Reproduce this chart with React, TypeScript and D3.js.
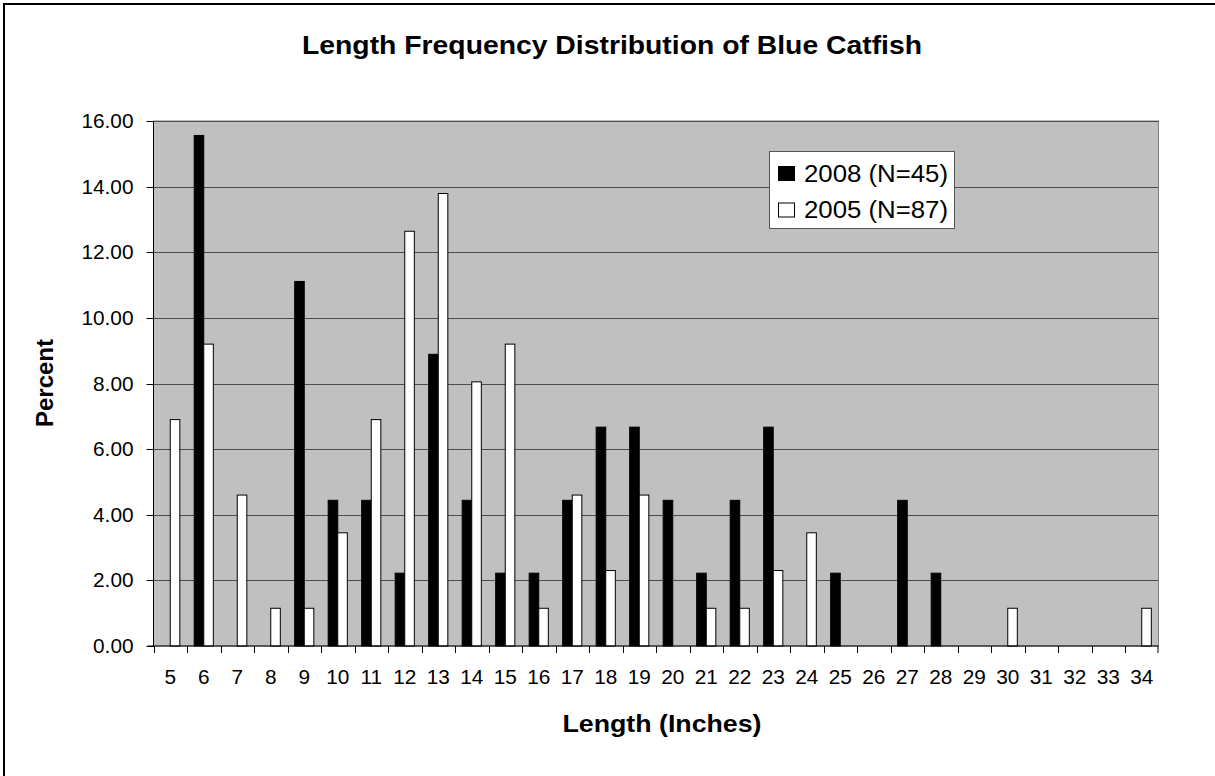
import React from "react";
import * as d3 from "d3";

// Length classes (inches) and percent of catch per class
const lengths: number[] = [
  5, 6, 7, 8, 9, 10, 11, 12, 13, 14, 15, 16, 17, 18, 19, 20, 21, 22, 23, 24, 25, 26, 27, 28, 29, 30, 31, 32, 33, 34,
];
const pct2008: number[] = [
  0, 15.56, 0, 0, 11.11, 4.44, 4.44, 2.22, 8.89, 4.44, 2.22, 2.22, 4.44, 6.67, 6.67, 4.44, 2.22, 4.44, 6.67, 0, 2.22, 0,
  4.44, 2.22, 0, 0, 0, 0, 0, 0,
];
const pct2005: number[] = [
  6.9, 9.2, 4.6, 1.15, 1.15, 3.45, 6.9, 12.64, 13.79, 8.05, 9.2, 1.15, 4.6, 2.3, 4.6, 0, 1.15, 1.15, 2.3, 3.45, 0, 0, 0,
  0, 0, 1.15, 0, 0, 0, 1.15,
];
const seriesNames: string[] = ["2008 (N=45)", "2005 (N=87)"];
const yTicks: number[] = [0, 2, 4, 6, 8, 10, 12, 14, 16];

const W = 1215;
const H = 776;
const plot = { left: 153.5, right: 1158.5, top: 121, bottom: 646 };
const font = "Arial, 'Liberation Sans', Helvetica, sans-serif";

export default function App() {
  const x = d3
    .scaleBand<number>()
    .domain(lengths)
    .range([plot.left, plot.right])
    .paddingInner(0)
    .paddingOuter(0);
  const band = x.bandwidth();
  const barW = band / 3.5; // two bars plus 150% gap
  const y = d3.scaleLinear().domain([0, 16]).range([plot.bottom, plot.top]);

  const series = [
    { name: seriesNames[0], values: pct2008, fill: "#000000" },
    { name: seriesNames[1], values: pct2005, fill: "#ffffff" },
  ];

  return (
    <svg
      width={W}
      height={H}
      style={{ position: "absolute", left: 0, top: 0, fontFamily: font }}
    >
      <rect x={0} y={0} width={W} height={H} fill="#ffffff" />
      <rect x={4} y={4} width={W + 10} height={H + 10} fill="none" stroke="#000" strokeWidth={2} />

      <text
        x={612}
        y={54}
        textAnchor="middle"
        fontSize={25}
        fontWeight="bold"
        textLength={620}
        lengthAdjust="spacingAndGlyphs"
      >
        Length Frequency Distribution of Blue Catfish
      </text>

      {/* plot area */}
      <rect
        x={plot.left}
        y={plot.top}
        width={plot.right - plot.left}
        height={plot.bottom - plot.top}
        fill="#c0c0c0"
        stroke="#808080"
        strokeWidth={1}
      />
      {yTicks.slice(1).map((t) => (
        <line
          key={"g" + t}
          x1={plot.left}
          x2={plot.right}
          y1={Math.round(y(t)) + 0.5}
          y2={Math.round(y(t)) + 0.5}
          stroke="#4d4d4d"
          strokeWidth={1}
        />
      ))}

      {/* bars */}
      {series.map((s, si) =>
        s.values.map((v, i) =>
          v > 0 ? (
            <rect
              key={s.name + i}
              x={(x(lengths[i]) as number) + band * (0.75 / 3.5) + si * barW}
              y={y(v)}
              width={barW}
              height={plot.bottom - y(v)}
              fill={s.fill}
              stroke="#000"
              strokeWidth={1}
            />
          ) : null
        )
      )}

      {/* axes */}
      <line x1={plot.left} x2={plot.left} y1={plot.top} y2={plot.bottom + 0.5} stroke="#000" strokeWidth={1} />
      <line x1={plot.left - 6} x2={plot.right} y1={plot.bottom} y2={plot.bottom} stroke="#000" strokeWidth={1} />
      {yTicks.map((t) => (
        <g key={"y" + t}>
          <line
            x1={plot.left - 7}
            x2={plot.left}
            y1={Math.round(y(t)) + 0.5}
            y2={Math.round(y(t)) + 0.5}
            stroke="#000"
          />
          <text
            transform={`translate(133.5, ${y(t) + 7}) scale(1.04, 1)`}
            textAnchor="end"
            fontSize={20}
          >
            {t.toFixed(2)}
          </text>
        </g>
      ))}
      {lengths.map((l) => (
        <g key={"x" + l}>
          <line
            x1={Math.round(x(l) as number) + 0.5}
            x2={Math.round(x(l) as number) + 0.5}
            y1={plot.bottom}
            y2={plot.bottom + 7}
            stroke="#000"
          />
          <text
            transform={`translate(${(x(l) as number) + band / 2}, 684) scale(1.04, 1)`}
            textAnchor="middle"
            fontSize={20}
          >
            {l}
          </text>
        </g>
      ))}
      <line
        x1={plot.right - 0.5}
        x2={plot.right - 0.5}
        y1={plot.bottom}
        y2={plot.bottom + 7}
        stroke="#000"
      />

      <text
        x={662}
        y={731.5}
        textAnchor="middle"
        fontSize={24}
        fontWeight="bold"
        textLength={199}
        lengthAdjust="spacingAndGlyphs"
      >
        Length (Inches)
      </text>
      <text
        transform={`translate(53, 383) rotate(-90)`}
        textAnchor="middle"
        fontSize={24}
        fontWeight="bold"
      >
        Percent
      </text>

      {/* legend */}
      <rect x={769.5} y={151.5} width={185} height={77} fill="#fff" stroke="#555" strokeWidth={1} />
      {series.map((s, i) => (
        <g key={"lg" + i}>
          <rect
            x={778.5}
            y={166.5 + i * 36.5}
            width={16}
            height={14}
            fill={s.fill}
            stroke="#000"
            strokeWidth={1}
          />
          <text
            x={804}
            y={181.5 + i * 36.5}
            fontSize={23}
            textLength={144}
            lengthAdjust="spacingAndGlyphs"
          >
            {s.name}
          </text>
        </g>
      ))}
    </svg>
  );
}
